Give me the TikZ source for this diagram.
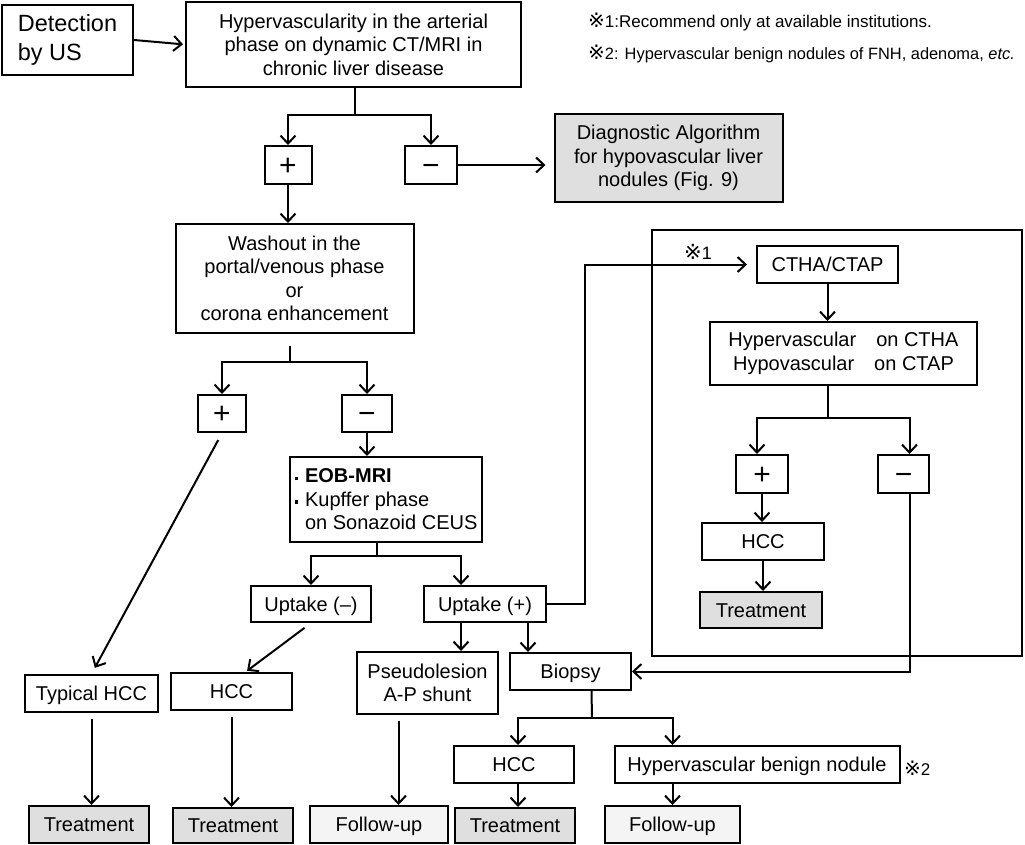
\documentclass[tikz,border=0pt]{standalone}
\usepackage{fontspec}
\setmainfont{Liberation Sans}
\newfontfamily\refmark{DejaVu Sans}
\usetikzlibrary{positioning}
\usetikzlibrary{calc}
\usetikzlibrary{arrows.meta}
\pgfdeclarelayer{nodelayer}
\pgfdeclarelayer{edgelayer}
\pgfsetlayers{nodelayer,edgelayer,main}
\newcommand{\sqbul}{\rule[0.25ex]{3.5pt}{3.5pt}\hspace{7pt}}
\newcommand{\rmark}[1]{{\refmark\fontsize{#1}{#1}\selectfont ※}}
\tikzset{
  box/.style={draw, line width=2pt, align=center, inner sep=0pt,
    font=\fontsize{20}{23.5}\selectfont},
  one/.style={box, text height=14.3pt, text depth=0pt},
  sz/.style 2 args={minimum width=#1pt, minimum height=#2pt},
  sign/.style={box, font=\fontsize{30}{30}\selectfont, text height=20.4pt, text depth=0pt},
  greybox/.style={one, fill=gray!25},
  palebox/.style={one, fill=gray!9},
  wire/.style={draw, line width=2pt},
  flow/.style={draw, line width=2pt, ->},
  note/.style={anchor=west, inner sep=0pt, font=\fontsize{17}{20}\selectfont},
}

\begin{document}
\begin{tikzpicture}[x=1pt, y=-1pt, >={Straight Barb[length=8pt,width=15pt]}]
  \useasboundingbox (0,0) rectangle (1025,844);
  \begin{pgfonlayer}{nodelayer}
    % first column
    \node [box, sz={131}{70}, align=left, font=\fontsize{23.5}{29}\selectfont] (us) at (67.5,40) {Detection\\by US};
    \node [box, sz={335}{85}] (hyper) at (353.5,44.5) {Hypervascularity in the arterial\\phase on dynamic CT/MRI in\\chronic liver disease};
    \node [sign, sz={47}{38}] (pos1) at (288,165) {+};
    \node [sign, sz={52}{38}] (neg1) at (431,165) {−};
    \node [box, fill=gray!25, sz={228}{88}] (hypo) at (668.5,158) {Diagnostic Algorithm\\ for hypovascular liver\\nodules (Fig. 9)};
    \node [box, sz={238}{109}] (wash) at (294.5,278.5) {Washout in the\\ portal/venous phase\\or\\corona enhancement};
    \node [sign, sz={48}{37}] (pos2) at (222,413.5) {+};
    \node [sign, sz={50}{37}] (neg2) at (367,413.5) {−};
    \node [box, sz={192}{85}, align=left] (eob) at (386,499.5) {\sqbul\textbf{EOB-MRI}\\\sqbul Kupffer phase\\\hspace{10.5pt}on Sonazoid CEUS};
    \node [one, sz={120}{36}] (upneg) at (311,604) {Uptake (--)};
    \node [one, sz={122}{36}] (uppos) at (485,604) {Uptake (+)};
    % CTHA/CTAP frame
    \node [draw, line width=2pt, inner sep=0pt, sz={370}{426}] (frame) at (837,443) {};
    \node [one, sz={141}{37}] (ctha) at (827.5,264.5) {CTHA/CTAP};
    \node [box, sz={267}{63}] (vasc) at (843.5,353.5) {Hypervascular\quad on CTHA\\Hypovascular\quad on CTAP};
    \node [sign, sz={52}{38}] (pos3) at (762,474) {+};
    \node [sign, sz={51}{38}] (neg3) at (903.5,474) {−};
    \node [one, sz={122}{37}] (hcc3) at (763,541.5) {HCC};
    \node [greybox, sz={122}{36}] (treat3) at (761,610) {Treatment};
    % lower rows
    \node [one, sz={133}{37}] (typical) at (91.5,693.5) {Typical HCC};
    \node [one, sz={121}{37}] (hcc1) at (231.5,691.5) {HCC};
    \node [box, sz={141}{62}] (pseudo) at (427.5,683) {Pseudolesion\\A-P shunt};
    \node [one, sz={121}{37}] (biopsy) at (570.5,671.5) {Biopsy};
    \node [one, sz={120}{37}] (hcc4) at (514,764.5) {HCC};
    \node [one, sz={285}{37}] (benign) at (757,764.5) {Hypervascular benign nodule};
    \node [greybox, sz={120}{37}] (treat1) at (89,824.5) {Treatment};
    \node [greybox, sz={120}{35}] (treat2) at (233,825.5) {Treatment};
    \node [palebox, sz={138}{37}] (follow1) at (379,824.5) {Follow-up};
    \node [greybox, sz={120}{35}] (treat4) at (515,825.5) {Treatment};
    \node [palebox, sz={135}{37}] (follow2) at (672.5,824.5) {Follow-up};
    % notes
    \node [note] (note1) at (588,22) {\rmark{20}1:Recommend only at available institutions.};
    \node [note, font=\fontsize{16.4}{20}\selectfont] (note2) at (588,54) {\rmark{20}2: Hypervascular benign nodules of FNH, adenoma, \textit{etc.}};
    \node [note, font=\fontsize{18}{20}\selectfont] (mark1) at (684,252) {\rmark{21}1};
    \node [note] (mark2) at (904,768) {\rmark{20}2};
  \end{pgfonlayer}
  \begin{pgfonlayer}{edgelayer}
    \coordinate (j1) at (355,115);
    \coordinate (j2) at (290,362);
    \coordinate (j3) at (377,556);
    \coordinate (j4) at (828,418);
    \coordinate (j5) at (592,718);
    \draw [flow, shorten >=2pt] (us.east) -- (hyper.west);
    \draw [wire] (j1 |- hyper.south) -- (j1);
    \draw [flow] (j1) -| (pos1.north);
    \draw [flow] (j1) -| (neg1.north);
    \draw [flow, shorten >=8pt] (neg1.east) -- (neg1.east -| hypo.west);
    \draw [flow] (pos1.south) -- (pos1.south |- wash.north);
    \draw [wire, shorten <=12pt] (j2 |- wash.south) -- (j2);
    \draw [flow] (j2) -| (pos2.north);
    \draw [flow] (j2) -| (neg2.north);
    \draw [flow, shorten <=8pt, shorten >=7pt] (pos2.south) -- (typical.north);
    \draw [flow] (neg2.south) -- (neg2.south |- eob.north);
    \draw [wire] (j3 |- eob.south) -- (j3);
    \draw [flow] (j3) -| (upneg.north);
    \draw [flow] (j3) -| ([xshift=-24pt]uppos.north);
    \draw [flow, shorten <=8pt, shorten >=2pt] (upneg.south) -- ([xshift=14pt]hcc1.north);
    \draw [flow, shorten >=9pt] (uppos.east) -- ++(38,0) |- (ctha.west);
    \draw [flow] ([xshift=-24pt]uppos.south) -- ([xshift=-24pt]uppos.south |- pseudo.north);
    \draw [flow] ([xshift=43pt]uppos.south) -- ([xshift=43pt]uppos.south |- biopsy.north);
    \draw [flow] (ctha.south) -- (vasc.north -| ctha.south);
    \draw [wire] (j4 |- vasc.south) -- (j4);
    \draw [flow] (j4) -| ([xshift=-5pt]pos3.north);
    \draw [flow] (j4) -| ([xshift=6pt]neg3.north);
    \draw [flow] (pos3.south) -- (hcc3.north -| pos3.south);
    \draw [flow] (hcc3.south) -- (treat3.north -| hcc3.south);
    \draw [flow] ([xshift=6pt]neg3.south) |- (biopsy.east);
    \draw [flow, shorten <=6pt] (typical.south) -- (treat1.north -| typical.south);
    \draw [flow, shorten <=6pt] (hcc1.south) -- (treat2.north -| hcc1.south);
    \draw [flow, shorten <=6pt] ([xshift=-29pt]pseudo.south) -- ([xshift=-29pt]pseudo.south |- follow1.north);
    \draw [wire] ([xshift=21pt]biopsy.south) -- (j5);
    \draw [flow] (j5) -| ([xshift=4pt]hcc4.north);
    \draw [flow] (j5) -| (benign.north -| follow2.north);
    \draw [flow] ([xshift=4pt]hcc4.south) -- ([xshift=4pt]hcc4.south |- treat4.north);
    \draw [flow] (follow2.north |- benign.south) -- (follow2.north);
  \end{pgfonlayer}
\end{tikzpicture}
\end{document}
